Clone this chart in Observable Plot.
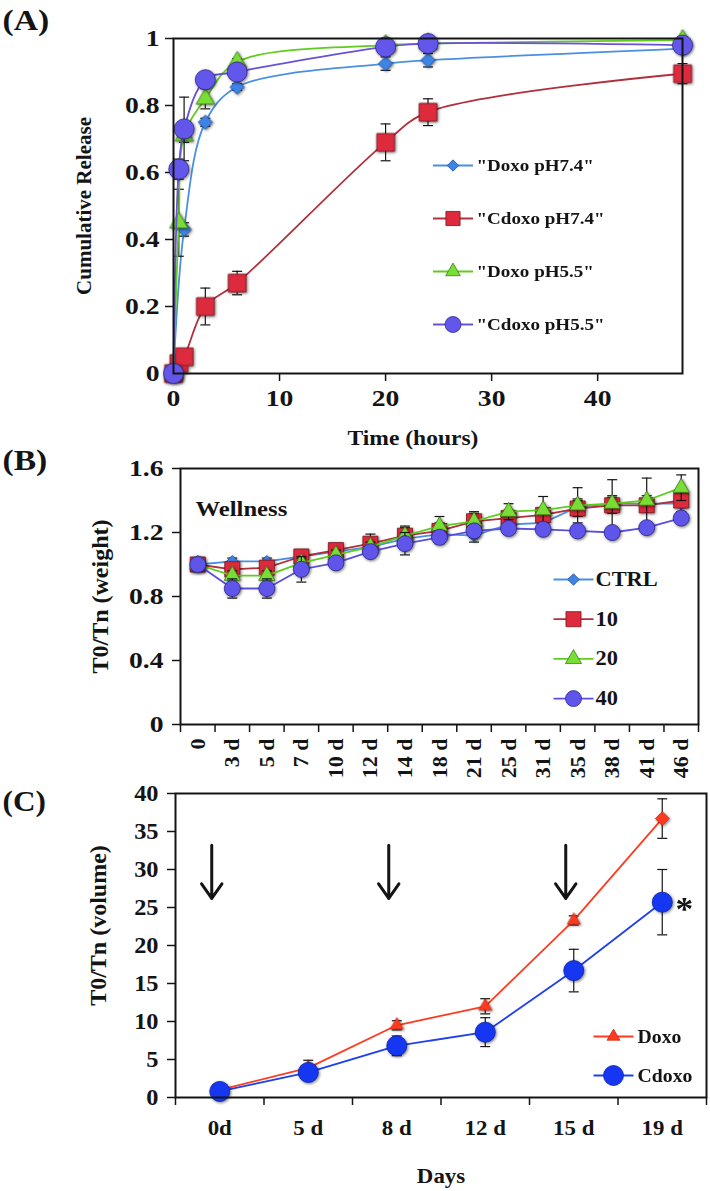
<!DOCTYPE html>
<html><head><meta charset="utf-8">
<script src="https://cdn.jsdelivr.net/npm/d3@7"></script>
<script src="https://cdn.jsdelivr.net/npm/@observablehq/plot@0.6"></script>
<style>
body{margin:0;background:#fff;}
#wrap{position:relative;width:710px;height:1191px;overflow:hidden;background:#fff;}
#wrap svg{position:absolute;left:0;overflow:visible;}
</style></head><body><div id="wrap"></div>
<script>
// ---------- Panel A : cumulative release ----------
const timeA = [0, 0.5, 1, 3, 6, 20, 24, 48];
const namesA = ['"Doxo pH7.4"', '"Cdoxo pH7.4"', '"Doxo pH5.5"', '"Cdoxo pH5.5"'];
const doxo74  = [0, null, 0.43, 0.75, 0.855, 0.925, 0.935, 0.97];
const cdoxo74 = [0, 0.03, 0.05, 0.20, 0.27, 0.69, 0.78, 0.895];
const doxo55  = [0, 0.45, 0.71, 0.82, 0.93, 0.98, 0.985, 0.995];
const cdoxo55 = [0, 0.61, 0.73, 0.877, 0.90, 0.975, 0.985, 0.98];
const errDoxo74  = [0, 0, 0.02, 0.012, 0.01, 0.02, 0.02, 0.012];
const errCdoxo74 = [0, 0.01, 0.01, 0.055, 0.035, 0.055, 0.04, 0.03];
const errDoxo55  = [0, 0.1, 0.02, 0.03, 0.01, 0.01, 0.01, 0.01];
const errCdoxo55 = [0, 0.03, 0.095, 0.02, 0.01, 0.01, 0.01, 0.01];
const yTicksA = [0, 0.2, 0.4, 0.6, 0.8, 1];
const xTicksA = [0, 10, 20, 30, 40];

// ---------- Panel B : wellness (weight) ----------
const daysB = ["0","3 d","5 d","7 d","10 d","12 d","14 d","18 d","21 d","25 d","31 d","35 d","38 d","41 d","46 d"];
const namesB = ["CTRL", "10", "20", "40"];
const ctrlB = [1.0, 1.02, 1.02, 1.05, 1.08, 1.11, 1.16, 1.19, 1.18, 1.25, 1.26, 1.36, 1.38, 1.38, 1.38];
const d10B  = [1.0, 0.97, 0.98, 1.05, 1.09, 1.13, 1.18, 1.21, 1.27, 1.29, 1.31, 1.35, 1.37, 1.37, 1.40];
const d20B  = [1.0, 0.93, 0.93, 1.01, 1.06, 1.11, 1.18, 1.24, 1.27, 1.33, 1.34, 1.37, 1.38, 1.40, 1.48];
const d40B  = [1.0, 0.85, 0.85, 0.97, 1.01, 1.08, 1.13, 1.17, 1.21, 1.225, 1.22, 1.21, 1.20, 1.23, 1.29];
const errCtrlB = [0, 0.02, 0.02, 0.02, 0.02, 0.03, 0.04, 0.04, 0.04, 0.04, 0.04, 0.05, 0.05, 0.05, 0.05];
const err10B   = [0, 0.03, 0.03, 0.04, 0.03, 0.06, 0.05, 0.05, 0.05, 0.05, 0.04, 0.05, 0.05, 0.04, 0.03];
const err20B   = [0, 0.03, 0.03, 0.03, 0.03, 0.03, 0.06, 0.06, 0.06, 0.05, 0.085, 0.11, 0.15, 0.14, 0.08];
const err40B   = [0, 0.06, 0.06, 0.08, 0.03, 0.03, 0.07, 0.04, 0.04, 0.03, 0.03, 0.03, 0.03, 0.03, 0.03];
const yTicksB = [0, 0.4, 0.8, 1.2, 1.6];

// ---------- Panel C : volume ----------
const daysC = ["0d","5 d","8 d","12 d","15 d","19 d"];
const namesC = ["Doxo", "Cdoxo"];
const doxoC  = [1.0, 3.9, 9.5, 12.0, 23.3, 36.7];
const cdoxoC = [0.8, 3.3, 6.8, 8.6, 16.7, 25.7];
const errDoxoC  = [0.2, 1.0, 0.6, 1.0, 0.6, 2.6];
const errCdoxoC = [0.2, 0.4, 1.3, 1.9, 2.8, 4.3];
const yTicksC = [0, 5, 10, 15, 20, 25, 30, 35, 40];
const arrowDaysC = ["0d", "8 d", "15 d"];
const arrowFromC = 33.2, arrowToC = 26.2;
const starLabel = "*";

// ---------- styles ----------
const FONT = "'Liberation Serif', 'Times New Roman', serif";
const INK = "#141414";
const SHADOW = "drop-shadow(1px 1.5px 1.5px rgba(0,0,0,0.55))";
const capSym = {draw(ctx){ ctx.moveTo(-5, 0); ctx.lineTo(5, 0); }};
const legLine = {draw(ctx){ ctx.moveTo(-20, 0); ctx.lineTo(20, 0); }};

const styleA = [
  {line:"#4a90e2", fill:"#3d84e8", edge:"#21508f", symbol:"diamond2", r:6.4},
  {line:"#b0303c", fill:"#dd2a3c", edge:"#7a1520", symbol:"square", r:10},
  {line:"#5fcc1f", fill:"#78de36", edge:"#3b7d14", symbol:"triangle", r:6.8},
  {line:"#6a52d6", fill:"#6257ea", edge:"#352a8c", symbol:"circle", r:10}
];
const styleB = [
  {line:"#4a90e2", fill:"#3d84e8", edge:"#21508f", symbol:"diamond2", r:5.2},
  {line:"#b0303c", fill:"#dd2a3c", edge:"#7a1520", symbol:"square", r:8.5},
  {line:"#5fcc1f", fill:"#78de36", edge:"#3b7d14", symbol:"triangle", r:6},
  {line:"#5a4ee0", fill:"#5f55ea", edge:"#2f288c", symbol:"circle", r:8}
];
const styleC = [
  {line:"#ff3b1f", fill:"#ff3b1f", edge:"#d42a10", symbol:"triangle", r:4.8, lastSymbol:"diamond2", lastR:6.2},
  {line:"#1f3ff0", fill:"#1537f2", edge:"#0c22a8", symbol:"circle", r:10}
];

const wrap = document.getElementById("wrap");
function place(svg, top, k, kTick){
  svg.style.top = top + "px";
  wrap.appendChild(svg);
  // widen horizontal lettering (the source figure is stretched horizontally)
  svg.querySelectorAll("text").forEach(t => {
    const tr = t.getAttribute("transform") || "";
    if (/rotate/.test(tr) || t.querySelector("tspan") || !t.textContent) return;
    const g = t.closest("g[aria-label]");
    const isTick = g && /tick label/.test(g.getAttribute("aria-label"));
    const f = isTick ? kTick : k;
    const len = t.getComputedTextLength();
    if (len > 0) { t.setAttribute("textLength", (len * f).toFixed(2)); t.setAttribute("lengthAdjust", "spacingAndGlyphs"); }
  });
}

function seriesMarks(rows, st, curve){
  const marks = [];
  const withErr = rows.filter(d => d.e > 0);
  marks.push(Plot.ruleX(withErr, {x:"x", y1: d => d.y - d.e, y2: d => d.y + d.e, stroke: INK, strokeWidth: 1.2}));
  marks.push(Plot.dot(withErr, {x:"x", y: d => d.y + d.e, symbol: capSym, stroke: INK, strokeWidth: 1.2, fill:"none"}));
  marks.push(Plot.dot(withErr, {x:"x", y: d => d.y - d.e, symbol: capSym, stroke: INK, strokeWidth: 1.2, fill:"none"}));
  marks.push(Plot.line(rows, {x:"x", y:"y", stroke: st.line, strokeWidth: 1.8, curve}));
  const body = st.lastSymbol ? rows.slice(0, -1) : rows;
  marks.push(Plot.dot(body, {x:"x", y:"y", symbol: st.symbol, r: st.r, fill: st.fill, stroke: st.edge, strokeWidth: 0.8, imageFilter: SHADOW}));
  if (st.lastSymbol) marks.push(Plot.dot(rows.slice(-1), {x:"x", y:"y", symbol: st.lastSymbol, r: st.lastR, fill: st.fill, stroke: st.edge, strokeWidth: 0.8, imageFilter: SHADOW}));
  return marks;
}
function legendMarks(names, styles, o){
  const marks = [];
  names.forEach((n, k) => {
    const st = styles[k], dy = o.dy0 + o.step * k;
    marks.push(Plot.dot([n], {frameAnchor:"top-left", dx:o.dx, dy, symbol: legLine, stroke: st.line, strokeWidth: 1.8, fill:"none"}));
    marks.push(Plot.dot([n], {frameAnchor:"top-left", dx:o.dx, dy, symbol: st.symbol, r: st.r * o.rk, fill: st.fill, stroke: st.edge, strokeWidth: 0.8}));
    marks.push(Plot.text([n], {frameAnchor:"top-left", dx:o.tx, dy, text: d => d, textAnchor:"start", lineAnchor:"middle", fontSize:o.fs, fontWeight:"bold", fill: INK}));
  });
  return marks;
}
const baseStyle = {fontFamily: FONT, fontWeight: "bold", fontSize: "22px", color: INK, background: "none", overflow: "visible"};

// ================= Panel A =================
{
  const vals = [doxo74, cdoxo74, doxo55, cdoxo55];
  const errs = [errDoxo74, errCdoxo74, errDoxo55, errCdoxo55];
  const marks = [];
  vals.forEach((v, k) => {
    const rows = timeA.map((t, i) => ({x: t, y: v[i], e: errs[k][i]})).filter(d => d.y != null);
    marks.push(...seriesMarks(rows, styleA[k], "catmull-rom"));
  });
  const svg = Plot.plot({
    width: 710, height: 450,
    marginTop: 38, marginBottom: 77, marginLeft: 173, marginRight: 28,
    style: baseStyle,
    x: {domain: [0, 48]},
    y: {domain: [0, 1]},
    marks: [
      Plot.axisY({ticks: yTicksA, tickFormat: d => String(d), tickSize: 8, tickPadding: 6, fontSize: 24, strokeWidth: 1.5, label: null}),
      Plot.axisX({ticks: xTicksA, tickFormat: d => String(d), tickSize: 8, tickPadding: 7, fontSize: 24, strokeWidth: 1.5, label: null}),
      ...marks,
      Plot.frame({stroke: INK, strokeWidth: 2}),
      ...legendMarks(namesA, styleA, {dx: 279.5, tx: 303, dy0: 127, step: 53, rk: 0.8, fs: 17}),
      Plot.text(["(A)"], {frameAnchor:"top-left", dx:-171, dy:-18, text: d => d, textAnchor:"start", lineAnchor:"middle", fontSize: 30, fontWeight:"bold"}),
      Plot.text(["Cumulative Release"], {frameAnchor:"left", dx:-89, text: d => d, rotate: -90, textAnchor:"middle", lineAnchor:"middle", fontSize: 21, fontWeight:"bold"}),
      Plot.text(["Time (hours)"], {frameAnchor:"bottom", dx:-15, dy:65, text: d => d, textAnchor:"middle", lineAnchor:"middle", fontSize: 21, fontWeight:"bold"})
    ]
  });
  place(svg, 0, 1.12, 1.15);
}

// ================= Panel B =================
{
  const vals = [ctrlB, d10B, d20B, d40B];
  const errs = [errCtrlB, err10B, err20B, err40B];
  const marks = [];
  vals.forEach((v, k) => {
    const rows = daysB.map((c, i) => ({x: i, y: v[i], e: errs[k][i]}));
    marks.push(...seriesMarks(rows, styleB[k], "linear"));
  });
  const bounds = daysB.map((c, i) => i - 0.5).concat([daysB.length - 0.5]);
  const svg = Plot.plot({
    width: 710, height: 342,
    marginTop: 22, marginBottom: 64, marginLeft: 180, marginRight: 12,
    style: baseStyle,
    x: {domain: [-0.5, daysB.length - 0.5]},
    y: {domain: [0, 1.6]},
    marks: [
      Plot.axisY({ticks: yTicksB, tickFormat: d => String(d), tickSize: 8, tickPadding: 9, fontSize: 24, strokeWidth: 1.5, label: null}),
      Plot.axisX({ticks: bounds, tickFormat: () => "", tickSize: 8, strokeWidth: 1.5, label: null}),
      Plot.text(daysB, {x: (d, i) => i, frameAnchor: "bottom", dy: 14, text: d => d, rotate: -90, textAnchor: "end", lineAnchor: "middle", fontSize: 22, fontWeight: "bold"}),
      ...marks,
      Plot.frame({stroke: INK, strokeWidth: 2}),
      ...legendMarks(namesB, styleB, {dx: 393, tx: 415, dy0: 111, step: 39.7, rk: 1, fs: 20}),
      Plot.text(["Wellness"], {frameAnchor:"top-left", dx:15, dy:40, text: d => d, textAnchor:"start", lineAnchor:"middle", fontSize: 22, fontWeight:"bold"}),
      Plot.text(["(B)"], {frameAnchor:"top-left", dx:-178, dy:-8, text: d => d, textAnchor:"start", lineAnchor:"middle", fontSize: 30, fontWeight:"bold"}),
      Plot.text(["T0/Tn (weight)"], {frameAnchor:"left", dx:-80, text: d => d, rotate: -90, textAnchor:"middle", lineAnchor:"middle", fontSize: 24, fontWeight:"bold"})
    ]
  });
  place(svg, 446, 1.12, 1.15);
}

// ================= Panel C =================
{
  const vals = [doxoC, cdoxoC];
  const errs = [errDoxoC, errCdoxoC];
  const marks = [];
  let lastC = null;
  vals.forEach((v, k) => {
    const rows = daysC.map((c, i) => ({x: i, y: v[i], e: errs[k][i]}));
    marks.push(...seriesMarks(rows, styleC[k], "linear"));
    if (k === 1) lastC = rows[rows.length - 1];
  });
  const bounds = daysC.map((c, i) => i - 0.5).concat([daysC.length - 0.5]);
  const svg = Plot.plot({
    width: 710, height: 403,
    marginTop: 5, marginBottom: 94, marginLeft: 175, marginRight: 4,
    style: baseStyle,
    x: {domain: [-0.5, daysC.length - 0.5]},
    y: {domain: [0, 40]},
    marks: [
      Plot.axisY({ticks: yTicksC, tickFormat: d => String(d), tickSize: 8, tickPadding: 9, fontSize: 23, strokeWidth: 1.5, label: null}),
      Plot.axisX({ticks: bounds, tickFormat: () => "", tickSize: 8, strokeWidth: 1.5, label: null}),
      Plot.text(daysC, {x: (d, i) => i, frameAnchor: "bottom", dy: 30, text: d => d, textAnchor: "middle", lineAnchor: "middle", fontSize: 22, fontWeight: "bold"}),
      Plot.arrow(arrowDaysC, {x: d => daysC.indexOf(d), y1: () => arrowFromC, y2: () => arrowToC, dx: -8, stroke: INK, strokeWidth: 3, headLength: 16, headAngle: 70}),
      ...marks,
      Plot.text([lastC], {x: "x", y: "y", text: () => starLabel, dx: 22, dy: 7, fontSize: 34, fontWeight: "bold", textAnchor: "middle", lineAnchor: "middle"}),
      Plot.frame({stroke: INK, strokeWidth: 2}),
      ...legendMarks(namesC, styleC, {dx: 438, tx: 462, dy0: 243, step: 39, rk: 1, fs: 19}),
      Plot.text(["(C)"], {frameAnchor:"top-left", dx:-173, dy:8, text: d => d, textAnchor:"start", lineAnchor:"middle", fontSize: 30, fontWeight:"bold"}),
      Plot.text(["T0/Tn (volume)"], {frameAnchor:"left", dx:-77, dy:-20, text: d => d, rotate: -90, textAnchor:"middle", lineAnchor:"middle", fontSize: 24, fontWeight:"bold"}),
      Plot.text(["Days"], {frameAnchor:"bottom", dy:78, text: d => d, textAnchor:"middle", lineAnchor:"middle", fontSize: 22, fontWeight:"bold"})
    ]
  });
  place(svg, 788, 1.04, 1.06);
}
</script></body></html>
